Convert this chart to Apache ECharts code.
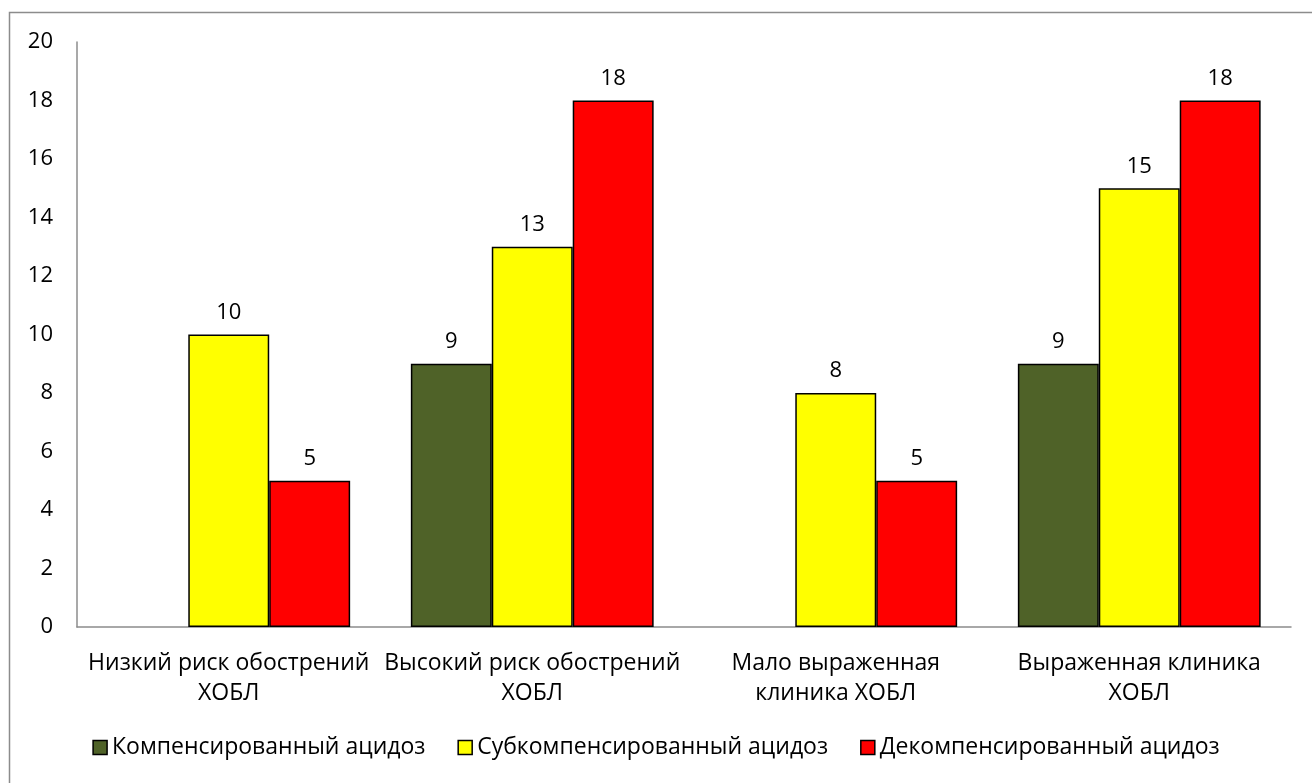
<!DOCTYPE html>
<html>
<head>
<meta charset="utf-8">
<script src="https://cdn.jsdelivr.net/npm/echarts@6/dist/echarts.min.js"></script>
<style>
html,body{margin:0;padding:0;background:#fff;}
#chart{width:1312px;height:783px;}
</style>
</head>
<body>
<div id="chart"></div>
<script>
const categories = [
  "Низкий риск обострений\nХОБЛ",
  "Высокий риск обострений\nХОБЛ",
  "Мало выраженная\nклиника ХОБЛ",
  "Выраженная клиника\nХОБЛ"
];
const seriesNames = ["Компенсированный ацидоз", "Субкомпенсированный ацидоз", "Декомпенсированный ацидоз"];
const compensated = [null, 9, null, 9];
const subcompensated = [10, 13, 8, 15];
const decompensated = [5, 18, 5, 18];
const colors = ["#4F6228", "#FFFF00", "#FF0000"];

const FONT = "'Open Sans', 'Noto Sans', sans-serif";
const FS = 23;
const chart = echarts.init(document.getElementById('chart'), null, {renderer: 'canvas'});

function mkSeries(name, data, color) {
  return {
    name: name,
    type: 'bar',
    data: data,
    barGap: '0%',
    barCategoryGap: '20%',
    itemStyle: {color: color, borderColor: '#000', borderWidth: 1.5},
    label: {
      show: true, position: 'top', distance: 11,
      color: '#000', fontSize: 22, fontFamily: FONT
    }
  };
}

chart.setOption({
  animation: false,
  backgroundColor: '#fff',
  graphic: [{
    type: 'rect',
    shape: {x: 9.5, y: 12.5, width: 1400, height: 900},
    style: {fill: 'none', stroke: '#8c8c8c', lineWidth: 1.5},
    silent: true, z: -1
  }],
  grid: {left: 77, right: 21, top: 42, bottom: 156, containLabel: false},
  legend: {
    bottom: 19, left: 'center',
    itemWidth: 14, itemHeight: 14, itemGap: 32,
    icon: 'rect',
    itemStyle: {borderColor: '#000', borderWidth: 1.5},
    textStyle: {fontSize: FS, fontFamily: FONT, color: '#000', padding: [0, 0, 0, 0]},
    data: seriesNames
  },
  xAxis: {
    type: 'category',
    data: categories,
    axisLine: {lineStyle: {color: '#8c8c8c', width: 1.5}},
    axisTick: {show: false},
    axisLabel: {color: '#000', fontSize: FS, fontFamily: FONT, lineHeight: 30, margin: 21, interval: 0}
  },
  yAxis: {
    type: 'value', min: 0, max: 20, interval: 2,
    axisLine: {show: true, lineStyle: {color: '#8c8c8c', width: 1.5}},
    axisTick: {show: false},
    splitLine: {show: false},
    axisLabel: {color: '#000', fontSize: 22, fontFamily: FONT, margin: 24}
  },
  series: [
    mkSeries(seriesNames[0], compensated, colors[0]),
    mkSeries(seriesNames[1], subcompensated, colors[1]),
    mkSeries(seriesNames[2], decompensated, colors[2])
  ]
});
</script>
</body>
</html>
